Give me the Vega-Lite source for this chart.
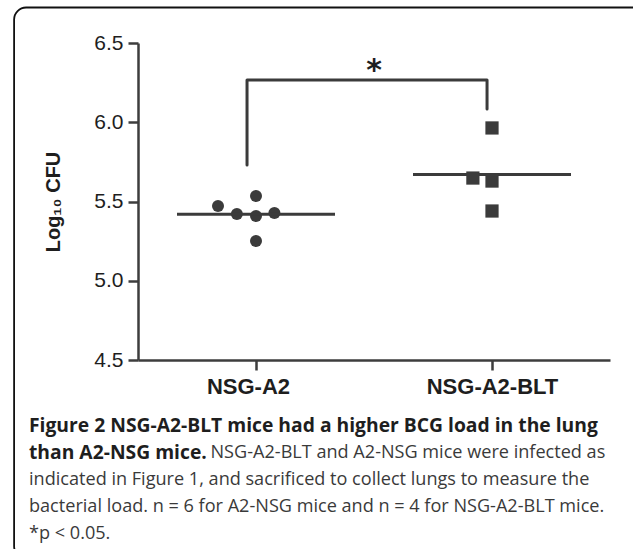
{
  "$schema": "https://vega.github.io/schema/vega-lite/v6.json",
  "width": 472,
  "height": 317,
  "autosize": {"type": "none"},
  "padding": {"left": 138, "top": 43, "right": 23, "bottom": 189},
  "background": "white",
  "config": {"view": {"stroke": null}, "axis": {"grid": false}},
  "title": {
    "text": ["Figure 2 NSG-A2-BLT mice had a higher BCG load in the lung", "than A2-NSG mice."],
    "subtitle": ["indicated in Figure 1, and sacrificed to collect lungs to measure the", "bacterial load. n = 6 for A2-NSG mice and n = 4 for NSG-A2-BLT mice.", "*p < 0.05."],
    "orient": "bottom",
    "anchor": "start",
    "frame": "group",
    "dx": -109,
    "offset": -142,
    "font": "Open Sans",
    "fontSize": 19.3,
    "fontWeight": "bold",
    "color": "#1e1e1e",
    "lineHeight": 27,
    "subtitleFont": "Open Sans",
    "subtitleFontSize": 18.1,
    "subtitleFontWeight": "normal",
    "subtitleColor": "#3a3a3a",
    "subtitleLineHeight": 27,
    "subtitlePadding": 8
  },
  "data": {
    "values": [
      {"group": "NSG-A2", "gidx": 1, "pos": 0.839, "cfu": 5.472},
      {"group": "NSG-A2", "gidx": 1, "pos": 1.0, "cfu": 5.535},
      {"group": "NSG-A2", "gidx": 1, "pos": 0.919, "cfu": 5.421},
      {"group": "NSG-A2", "gidx": 1, "pos": 1.0, "cfu": 5.408},
      {"group": "NSG-A2", "gidx": 1, "pos": 1.078, "cfu": 5.427},
      {"group": "NSG-A2", "gidx": 1, "pos": 1.0, "cfu": 5.251},
      {"group": "NSG-A2-BLT", "gidx": 2, "pos": 2.0, "cfu": 5.964},
      {"group": "NSG-A2-BLT", "gidx": 2, "pos": 1.919, "cfu": 5.648},
      {"group": "NSG-A2-BLT", "gidx": 2, "pos": 2.0, "cfu": 5.629},
      {"group": "NSG-A2-BLT", "gidx": 2, "pos": 2.0, "cfu": 5.44}
    ]
  },
  "layer": [
    {
      "mark": {"type": "point", "filled": true, "opacity": 1, "color": "#3b3b3b", "strokeWidth": 0},
      "encoding": {
        "x": {
          "field": "pos",
          "type": "quantitative",
          "scale": {"domain": [0.5, 2.5], "nice": false, "zero": false},
          "axis": {
            "values": [1, 2],
            "labelExpr": "datum.value == 1 ? 'NSG-A2' : 'NSG-A2-BLT'",
            "labelFont": "Liberation Sans",
            "labelFontSize": 22,
            "labelFontWeight": "bold",
            "labelColor": "#1e1e1e",
            "labelPadding": 6,
            "labelOffset": {"condition": {"test": "datum.value == 1", "value": -8}, "value": 0},
            "tickSize": 10,
            "tickWidth": 2.5,
            "tickColor": "#3d3d3d",
            "domainColor": "#3d3d3d",
            "domainWidth": 2.5,
            "title": "NSG-A2-BLT and A2-NSG mice were infected as",
            "titleFont": "Open Sans",
            "titleFontSize": 18.1,
            "titleFontWeight": "normal",
            "titleColor": "#3a3a3a",
            "titleX": 72,
            "titleY": 97,
            "titleAlign": "left",
            "titleBaseline": "alphabetic",
            "titleAngle": 0
          }
        },
        "y": {
          "field": "cfu",
          "type": "quantitative",
          "scale": {"domain": [4.5, 6.5], "nice": false, "zero": false},
          "axis": {
            "values": [4.5, 5, 5.5, 6, 6.5],
            "format": ".1f",
            "labelFont": "Liberation Sans",
            "labelFontSize": 21,
            "labelColor": "#1e1e1e",
            "labelPadding": 5,
            "tickSize": 10,
            "tickWidth": 2.5,
            "tickColor": "#3d3d3d",
            "domainColor": "#3d3d3d",
            "domainWidth": 2.5,
            "title": "Log₁₀ CFU",
            "titleFont": "Liberation Sans",
            "titleFontSize": 20,
            "titleFontWeight": "bold",
            "titleColor": "#1e1e1e",
            "titlePadding": 30
          }
        },
        "shape": {"field": "group", "type": "nominal", "scale": {"domain": ["NSG-A2", "NSG-A2-BLT"], "range": ["circle", "square"]}, "legend": null},
        "size": {"field": "group", "type": "ordinal", "scale": {"domain": ["NSG-A2", "NSG-A2-BLT"], "range": [145, 175]}, "legend": null}
      }
    },
    {
      "mark": {"type": "tick", "orient": "horizontal", "size": 158, "thickness": 3, "color": "#3b3b3b", "opacity": 1},
      "encoding": {
        "x": {"field": "gidx", "type": "quantitative", "scale": {"domain": [0.5, 2.5], "nice": false, "zero": false}},
        "y": {"aggregate": "mean", "field": "cfu", "type": "quantitative", "scale": {"domain": [4.5, 6.5], "nice": false, "zero": false}}
      }
    },
    {
      "data": {
        "values": [
          {"step": 1, "pos": 0.962, "cfu": 5.73},
          {"step": 2, "pos": 0.962, "cfu": 6.267},
          {"step": 3, "pos": 1.979, "cfu": 6.267},
          {"step": 4, "pos": 1.979, "cfu": 6.084}
        ]
      },
      "mark": {"type": "line", "color": "#3b3b3b", "strokeWidth": 3, "strokeCap": "round", "strokeJoin": "round"},
      "encoding": {
        "x": {"field": "pos", "type": "quantitative", "scale": {"domain": [0.5, 2.5], "nice": false, "zero": false}},
        "y": {"field": "cfu", "type": "quantitative", "scale": {"domain": [4.5, 6.5], "nice": false, "zero": false}},
        "order": {"field": "step", "type": "quantitative"}
      }
    },
    {
      "data": {"values": [{"pos": 1.5, "cfu": 6.265, "label": "*"}]},
      "mark": {"type": "text", "font": "DejaVu Sans", "fontWeight": "bold", "fontSize": 30, "baseline": "alphabetic", "align": "center", "color": "#1e1e1e"},
      "encoding": {
        "x": {"field": "pos", "type": "quantitative", "scale": {"domain": [0.5, 2.5], "nice": false, "zero": false}},
        "y": {"field": "cfu", "type": "quantitative", "scale": {"domain": [4.5, 6.5], "nice": false, "zero": false}},
        "text": {"field": "label"}
      }
    },
    {
      "data": {"values": [{"frame": "figure"}]},
      "mark": {"type": "rect", "fill": "transparent", "stroke": "#111111", "strokeWidth": 1.8, "cornerRadius": 12},
      "encoding": {
        "x": {"datum": -0.025, "type": "quantitative", "scale": {"domain": [0.5, 2.5], "nice": false, "zero": false}},
        "x2": {"datum": 2.65},
        "y": {"datum": 6.724, "type": "quantitative", "scale": {"domain": [4.5, 6.5], "nice": false, "zero": false}},
        "y2": {"datum": 3.25}
      }
    }
  ]
}
